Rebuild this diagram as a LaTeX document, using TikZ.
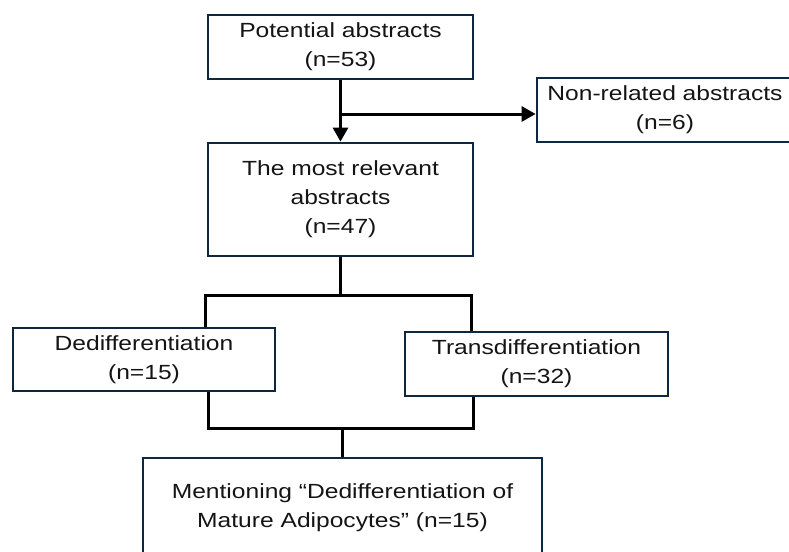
\documentclass[tikz,border=0pt]{standalone}
\usepackage{fontspec}
\setmainfont{Liberation Sans}[FakeStretch=1.2]
\usetikzlibrary{arrows.meta}
\definecolor{boxline}{HTML}{0E2841}
\definecolor{boxtext}{HTML}{141414}
\tikzset{
  stagebox/.style={draw=boxline, line width=2.8pt, align=center, text=boxtext,
    font=\fontsize{20.5}{29}\selectfont, inner sep=0pt},
  link/.style={line width=3pt, black},
  tip/.style={-{Triangle[length=14pt,width=15pt]}},
}
\begin{document}
\begin{tikzpicture}[x=1pt,y=-1pt]
  \useasboundingbox (0,0) rectangle (789,551);
  % boxes
  \node[stagebox, minimum width=265, minimum height=64] (pot) at (340.5,47) {Potential abstracts\\(n=53)};
  \node[stagebox, minimum width=256, minimum height=64] (nonrel) at (665,110) {Non-related abstracts\\(n=6)};
  \node[stagebox, minimum width=265, minimum height=113] (rel) at (340.5,199.5) {The most relevant\\abstracts\\(n=47)};
  \node[stagebox, minimum width=262, minimum height=63] (dediff) at (144,359.5) {Dedifferentiation\\(n=15)};
  \node[stagebox, minimum width=263, minimum height=64] (trans) at (536.5,364) {Transdifferentiation\\(n=32)};
  \node[stagebox, minimum width=399, minimum height=100] (mention) at (342.5,508) {Mentioning “Dedifferentiation of\\Mature Adipocytes” (n=15)};
  % connectors
  \coordinate (fork) at (340.5,114);
  \coordinate (splitL) at (205,295);
  \coordinate (splitR) at (471,295);
  \coordinate (joinL) at (208,428);
  \coordinate (joinR) at (473,428);
  \coordinate (joinM) at (342,428);
  \draw[link,tip] (pot.south) -- (rel.north);
  \draw[link,tip] (fork) -- (fork -| nonrel.west);
  \draw[link] (rel.south) -- (rel.south |- splitL);
  \draw[link] (splitL |- dediff.north) -- (splitL) -- (splitR) -- (splitR |- trans.north);
  \draw[link] (joinL |- dediff.south) -- (joinL) -- (joinR) -- (joinR |- trans.south);
  \draw[link] (joinM) -- (joinM |- mention.north);
\end{tikzpicture}
\end{document}
